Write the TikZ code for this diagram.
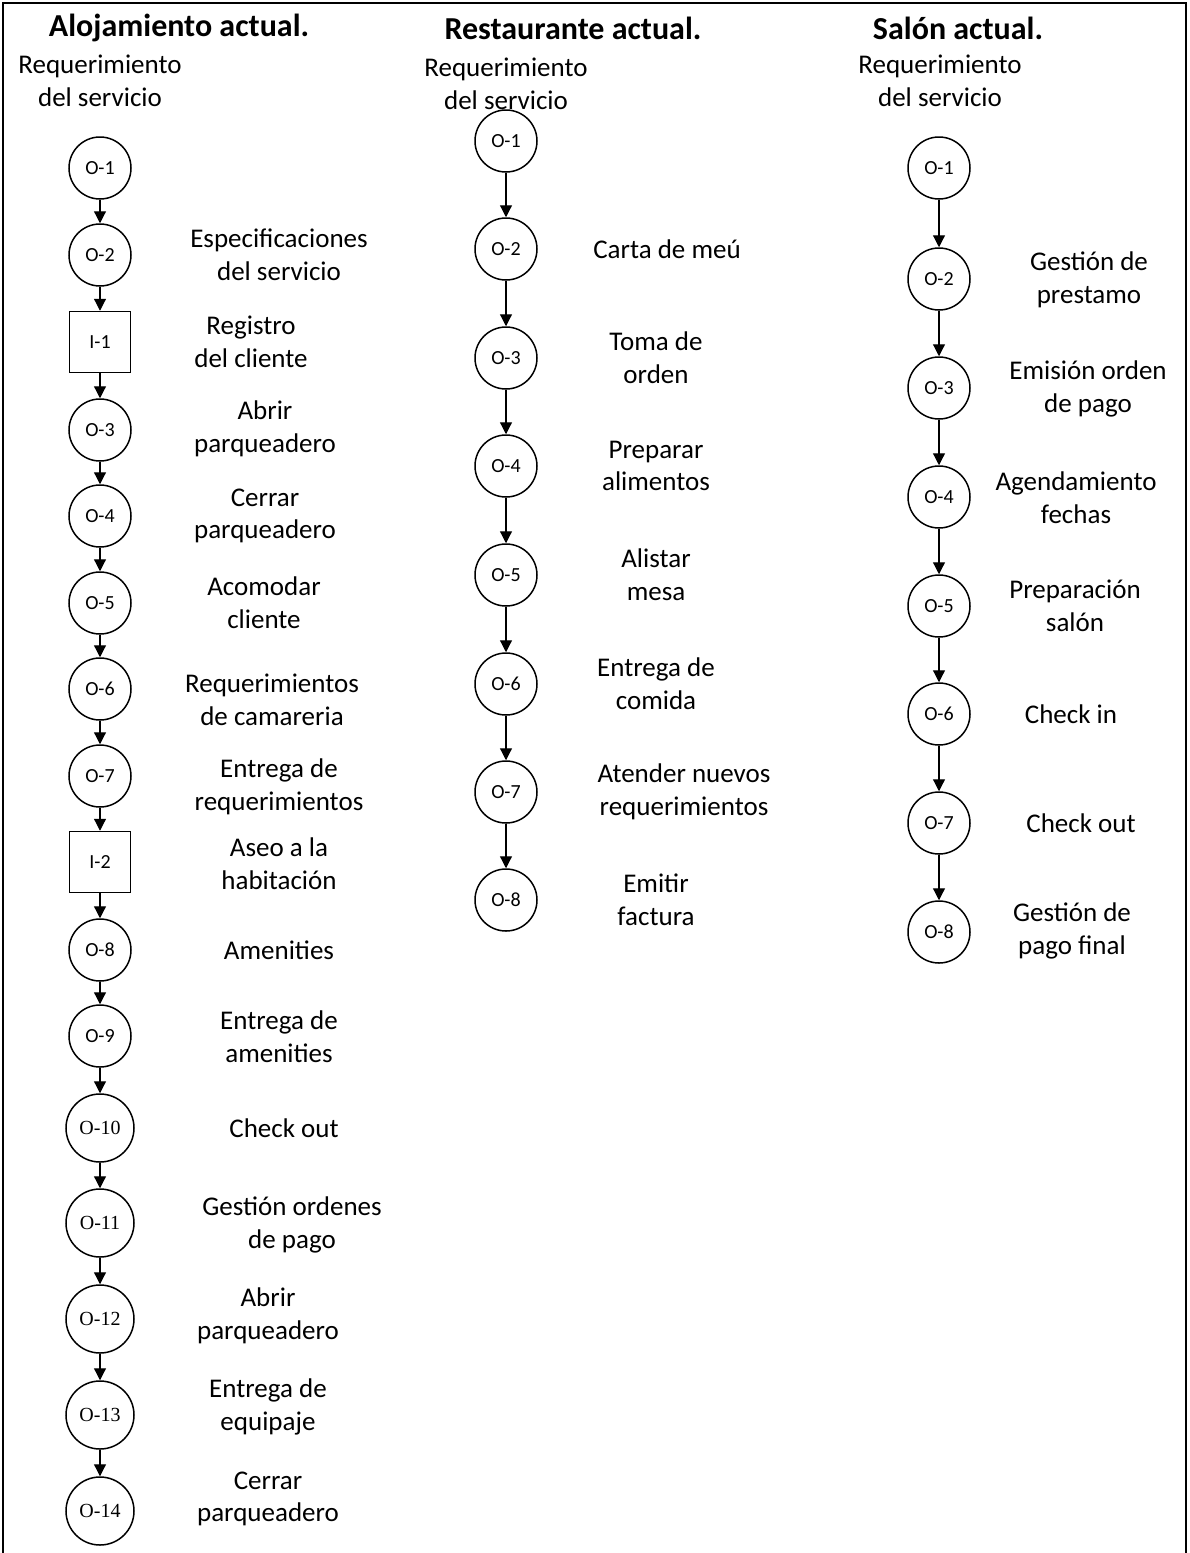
\documentclass[tikz,border=0pt]{standalone}
\usepackage{fontspec}
\setmainfont{Carlito}
\newfontfamily\numserif{Liberation Serif}
\usetikzlibrary{arrows.meta, positioning}
\tikzset{
  %% ---- nodes ----
  opcirc/.style  = {circle, draw, line width=0.75pt, minimum size=31pt,
                    inner sep=0pt, font=\fontsize{10}{12}\selectfont},
  opcircw/.style = {opcirc, minimum size=34pt,
                    font=\numserif\fontsize{10}{12}\selectfont},
  inspbox/.style = {rectangle, draw, line width=0.75pt, minimum size=30.5pt,
                    inner sep=0pt, font=\fontsize{10}{12}\selectfont},
  lbl/.style     = {align=center, inner sep=0pt,
                    font=\fontsize{13.5}{16.3}\selectfont},
  ttl/.style     = {inner sep=0pt, font=\bfseries\fontsize{16}{19}\selectfont},
  %% ---- arrows ----
  flow/.style    = {-{Triangle[width=6pt,length=6pt]}, line width=0.6pt},
}

\begin{document}
\begin{tikzpicture}[x=0.5pt, y=-0.5pt]

  \useasboundingbox (0,0) rectangle (1189,1553);
  \draw[line width=1.2pt] (3,1553) -- (3,3) -- (1186,3) -- (1186,1553);

  %% ---- Alojamiento ----
  \node[ttl] (tA) at (179,28) {Alojamiento actual.};
  \node[lbl] (rA) at (100,81) {Requerimiento\\del servicio};

  \node[opcirc]  (a1)  at (100,168)  {O-1};
  \node[opcirc]  (a2)  at (100,255)  {O-2};
  \node[inspbox] (ai1) at (100,342)  {I-1};
  \node[opcirc]  (a3)  at (100,430)  {O-3};
  \node[opcirc]  (a4)  at (100,516)  {O-4};
  \node[opcirc]  (a5)  at (100,603)  {O-5};
  \node[opcirc]  (a6)  at (100,689)  {O-6};
  \node[opcirc]  (a7)  at (100,776)  {O-7};
  \node[inspbox] (ai2) at (100,862)  {I-2};
  \node[opcirc]  (a8)  at (100,950)  {O-8};
  \node[opcirc]  (a9)  at (100,1036) {O-9};
  \node[opcircw] (a10) at (100,1128) {O-10};
  \node[opcircw] (a11) at (100,1223) {O-11};
  \node[opcircw] (a12) at (100,1319) {O-12};
  \node[opcircw] (a13) at (100,1415) {O-13};
  \node[opcircw] (a14) at (100,1511) {O-14};

  \node[lbl] at (279,255)  {Especificaciones\\del servicio};
  \node[lbl] at (251,342)  {Registro\\del cliente};
  \node[lbl] at (265,429)  {Abrir\\parqueadero};
  \node[lbl] at (265,516)  {Cerrar\\parqueadero};
  \node[lbl] at (264,603)  {Acomodar\\cliente};
  \node[lbl] at (272,700)  {Requerimientos\\de camareria};
  \node[lbl] at (279,787)  {Entrega de\\requerimientos};
  \node[lbl] at (279,864)  {Aseo a la\\habitación};
  \node[lbl] at (279,950)  {Amenities};
  \node[lbl] at (279,1037) {Entrega de\\amenities};
  \node[lbl] at (284,1128) {Check out};
  \node[lbl] at (292,1225) {Gestión ordenes\\de pago};
  \node[lbl] at (268,1316) {Abrir\\parqueadero};
  \node[lbl] at (268,1407) {Entrega de\\equipaje};
  \node[lbl] at (268,1499) {Cerrar\\parqueadero};

  \draw[flow] (a1) -- (a2);
  \draw[flow] (a2) -- (ai1);
  \draw[flow] (ai1) -- (a3);
  \draw[flow] (a3) -- (a4);
  \draw[flow] (a4) -- (a5);
  \draw[flow] (a5) -- (a6);
  \draw[flow] (a6) -- (a7);
  \draw[flow] (a7) -- (ai2);
  \draw[flow] (ai2) -- (a8);
  \draw[flow] (a8) -- (a9);
  \draw[flow] (a9) -- (a10);
  \draw[flow] (a10) -- (a11);
  \draw[flow] (a11) -- (a12);
  \draw[flow] (a12) -- (a13);
  \draw[flow] (a13) -- (a14);

  %% ---- Restaurante ----
  \node[ttl] (tR) at (573,28) {Restaurante actual.};
  \node[lbl] (rR) at (506,84) {Requerimiento\\del servicio};

  \node[opcirc] (r1) at (506,141) {O-1};
  \node[opcirc] (r2) at (506,249) {O-2};
  \node[opcirc] (r3) at (506,358) {O-3};
  \node[opcirc] (r4) at (506,466) {O-4};
  \node[opcirc] (r5) at (506,575) {O-5};
  \node[opcirc] (r6) at (506,684) {O-6};
  \node[opcirc] (r7) at (506,792) {O-7};
  \node[opcirc] (r8) at (506,900) {O-8};

  \node[lbl] at (667,249) {Carta de meú};
  \node[lbl] at (656,358) {Toma de\\orden};
  \node[lbl] at (656,466) {Preparar\\alimentos};
  \node[lbl] at (656,575) {Alistar\\mesa};
  \node[lbl] at (656,684) {Entrega de\\comida};
  \node[lbl] at (684,792) {Atender nuevos\\requerimientos};
  \node[lbl] at (656,900) {Emitir\\factura};

  \draw[flow] (r1) -- (r2);
  \draw[flow] (r2) -- (r3);
  \draw[flow] (r3) -- (r4);
  \draw[flow] (r4) -- (r5);
  \draw[flow] (r5) -- (r6);
  \draw[flow] (r6) -- (r7);
  \draw[flow] (r7) -- (r8);

  %% ---- Salon ----
  \node[ttl] (tS) at (958,28) {Salón actual.};
  \node[lbl] (rS) at (940,81) {Requerimiento\\del servicio};

  \node[opcirc] (s1) at (939,168) {O-1};
  \node[opcirc] (s2) at (939,279) {O-2};
  \node[opcirc] (s3) at (939,388) {O-3};
  \node[opcirc] (s4) at (939,497) {O-4};
  \node[opcirc] (s5) at (939,606) {O-5};
  \node[opcirc] (s6) at (939,714) {O-6};
  \node[opcirc] (s7) at (939,823) {O-7};
  \node[opcirc] (s8) at (939,932) {O-8};

  \node[lbl] at (1089,280) {Gestión de\\prestamo};
  \node[lbl] at (1088,389) {Emisión orden\\de pago};
  \node[lbl] at (1076,498) {Agendamiento\\fechas};
  \node[lbl] at (1075,606) {Preparación\\salón};
  \node[lbl] at (1071,714) {Check in};
  \node[lbl] at (1081,823) {Check out};
  \node[lbl] at (1072,931) {Gestión de\\pago final};

  \draw[flow] (s1) -- (s2);
  \draw[flow] (s2) -- (s3);
  \draw[flow] (s3) -- (s4);
  \draw[flow] (s4) -- (s5);
  \draw[flow] (s5) -- (s6);
  \draw[flow] (s6) -- (s7);
  \draw[flow] (s7) -- (s8);

\end{tikzpicture}
\end{document}
